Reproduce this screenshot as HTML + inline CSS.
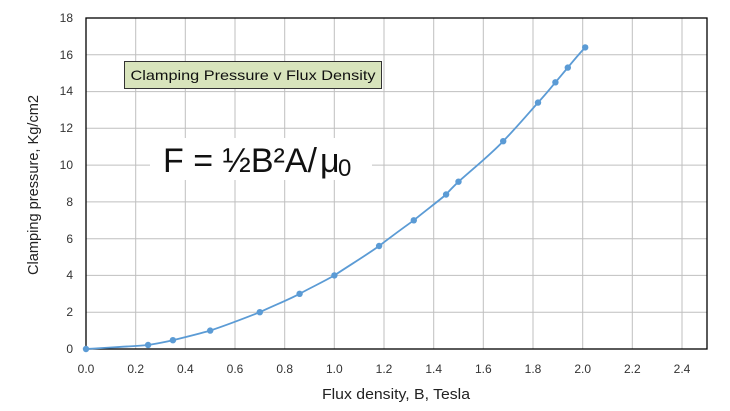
<!DOCTYPE html>
<html><head><meta charset="utf-8"><style>
body{margin:0;background:#fff;}
svg text{font-family:"Liberation Sans",sans-serif;}
</style></head><body>
<svg width="730" height="406" xmlns="http://www.w3.org/2000/svg">
<rect width="730" height="406" fill="#fff"/>
<g stroke="#bfbfbf" stroke-width="1">
<line x1="135.7" y1="18" x2="135.7" y2="349"/><line x1="185.3" y1="18" x2="185.3" y2="349"/>
<line x1="235" y1="18" x2="235" y2="349"/><line x1="284.7" y1="18" x2="284.7" y2="349"/>
<line x1="334.3" y1="18" x2="334.3" y2="349"/><line x1="384" y1="18" x2="384" y2="349"/>
<line x1="433.7" y1="18" x2="433.7" y2="349"/><line x1="483.3" y1="18" x2="483.3" y2="349"/>
<line x1="533" y1="18" x2="533" y2="349"/><line x1="582.7" y1="18" x2="582.7" y2="349"/>
<line x1="632.3" y1="18" x2="632.3" y2="349"/><line x1="682" y1="18" x2="682" y2="349"/>
<line x1="86" y1="312.2" x2="707" y2="312.2"/><line x1="86" y1="275.4" x2="707" y2="275.4"/>
<line x1="86" y1="238.7" x2="707" y2="238.7"/><line x1="86" y1="201.9" x2="707" y2="201.9"/>
<line x1="86" y1="165.1" x2="707" y2="165.1"/><line x1="86" y1="128.3" x2="707" y2="128.3"/>
<line x1="86" y1="91.6" x2="707" y2="91.6"/><line x1="86" y1="54.8" x2="707" y2="54.8"/>
</g>
<rect x="86" y="18" width="621" height="331" fill="none" stroke="#000" stroke-width="1.3"/>
<g font-size="12" fill="#333" text-anchor="end">
<text x="73" y="353">0</text><text x="73" y="316">2</text><text x="73" y="279">4</text>
<text x="73" y="243">6</text><text x="73" y="206">8</text><text x="73" y="169">10</text>
<text x="73" y="132">12</text><text x="73" y="95">14</text><text x="73" y="59">16</text><text x="73" y="22">18</text>
</g>
<g font-size="12" fill="#333" text-anchor="middle">
<text x="86" y="373">0.0</text><text x="135.7" y="373">0.2</text><text x="185.3" y="373">0.4</text>
<text x="235" y="373">0.6</text><text x="284.7" y="373">0.8</text><text x="334.3" y="373">1.0</text>
<text x="384" y="373">1.2</text><text x="433.7" y="373">1.4</text><text x="483.3" y="373">1.6</text>
<text x="533" y="373">1.8</text><text x="582.7" y="373">2.0</text><text x="632.3" y="373">2.2</text><text x="682" y="373">2.4</text>
</g>
<text x="396" y="399" font-size="15" text-anchor="middle" fill="#222" textLength="148" lengthAdjust="spacingAndGlyphs">Flux density, B, Tesla</text>
<text transform="translate(38,185) rotate(-90)" font-size="15" text-anchor="middle" fill="#222" textLength="180" lengthAdjust="spacingAndGlyphs">Clamping pressure, Kg/cm2</text>
<rect x="124.5" y="61.5" width="257" height="27" fill="#d8e4bc" stroke="#333" stroke-width="1"/>
<text x="253" y="80" font-size="14" text-anchor="middle" fill="#111" textLength="245" lengthAdjust="spacingAndGlyphs">Clamping Pressure v Flux Density</text>
<rect x="150" y="138" width="222" height="42" fill="#fff"/>
<text x="163" y="172" font-size="34" fill="#111">F = ½B²A/</text>
<text x="320" y="172" font-size="34" font-family="Liberation Serif,serif" fill="#111">μ</text><text x="338" y="176" font-size="24" font-family="Liberation Serif,serif" fill="#111">0</text>
<path d="M86,349 C110,347.5 130,346.5 148.1,345 C160,343 165,342 172.9,340.2 C190,336 200,333.5 210.2,330.6 C230,324 245,318 259.8,312.2 C275,305 288,300 299.6,293.8 C312,287 323,282 334.4,275.4 C350,265 365,256 379.1,246 C392,236 403,228 413.8,220.3 C425,211 436,203 446.1,194.5 C450,190 454,186 458.5,181.7 C475,167 490,155 503.2,141.2 C516,128 527,115 538,102.6 C545,95 550,89 555.4,82.3 C560,77 564,72 567.8,67.6 C574,60 580,53 585.2,47.4" fill="none" stroke="#5b9bd5" stroke-width="1.8"/>
<g fill="#5b9bd5">
<circle cx="86" cy="349" r="3.2"/><circle cx="148.1" cy="345" r="3.2"/><circle cx="172.9" cy="340.2" r="3.2"/>
<circle cx="210.2" cy="330.6" r="3.2"/><circle cx="259.8" cy="312.2" r="3.2"/><circle cx="299.6" cy="293.8" r="3.2"/>
<circle cx="334.4" cy="275.4" r="3.2"/><circle cx="379.1" cy="246" r="3.2"/><circle cx="413.8" cy="220.3" r="3.2"/>
<circle cx="446.1" cy="194.5" r="3.2"/><circle cx="458.5" cy="181.7" r="3.2"/><circle cx="503.2" cy="141.2" r="3.2"/>
<circle cx="538" cy="102.6" r="3.2"/><circle cx="555.4" cy="82.3" r="3.2"/><circle cx="567.8" cy="67.6" r="3.2"/>
<circle cx="585.2" cy="47.4" r="3.2"/>
</g>
</svg>
</body></html>
